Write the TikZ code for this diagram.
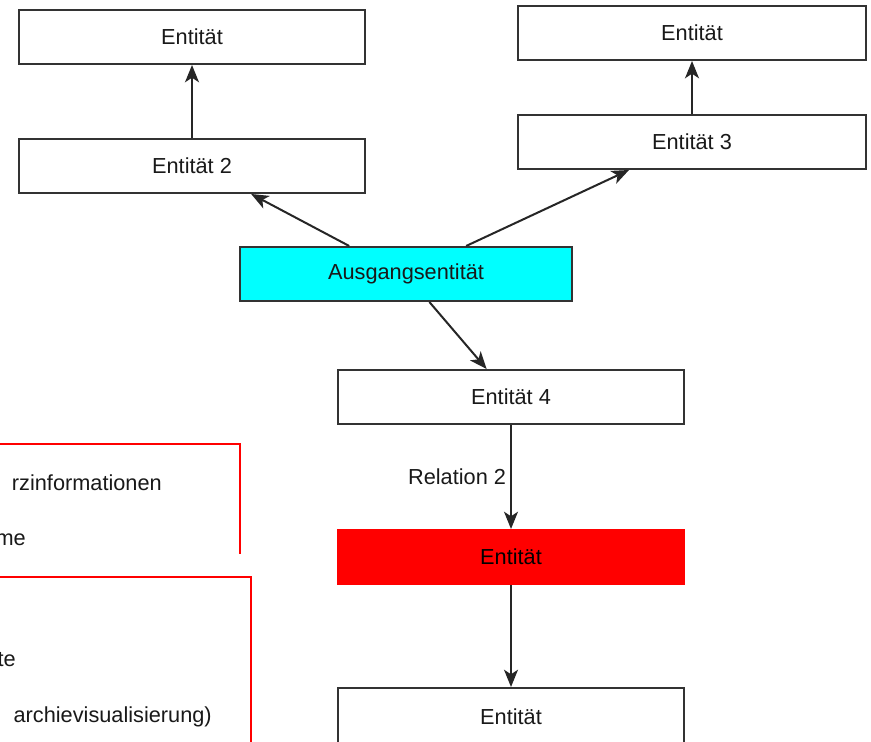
\documentclass[tikz,border=0pt]{standalone}
\usepackage{fontspec}
\setmainfont{Liberation Sans}
\usetikzlibrary{positioning, arrows.meta, calc}
\definecolor{aqua}{RGB}{0,255,255}
\definecolor{signalrot}{RGB}{255,0,0}

\begin{document}
\begin{tikzpicture}[
            x=0.75pt, y=-0.75pt,
            >={Stealth[length=13pt, width=10.5pt, inset=3.5pt]},
            font=\fontsize{16.3}{19}\selectfont,
            entity/.style={rectangle, draw=black!80, line width=1.5pt, fill=white, text=black!90, minimum width=259.5pt, minimum height=40.5pt, inner sep=0pt},
            ausgang/.style={entity, fill=aqua, minimum width=249pt},
            treffer/.style={entity, draw=signalrot, fill=signalrot, text=black},
            pfeil/.style={->, line width=1.5pt, draw=black!85},
            infobox/.style={draw=signalrot, line width=1.5pt},
            infotext/.style={anchor=east, inner sep=0pt, text=black!90},
        ]
            \useasboundingbox (0,0) rectangle (871,742);
            \clip (0,0) rectangle (871,742);

            % Draw the entity boxes
            \node[entity] (E-1) at (192,37) {Entität};
            \node[entity] (E-2) at (192,166) {Entität 2};
            \node[entity, minimum width=261pt] (E-5) at (692,33) {Entität};
            \node[entity, minimum width=261pt] (E-3) at (692,142) {Entität 3};
            \node[ausgang] (A) at (406,274) {Ausgangsentität};
            \node[entity] (E-4) at (511,397) {Entität 4};
            \node[treffer] (R) at (511,557) {Entität};
            \node[entity, minimum height=43.5pt] (E-6) at (511,717) {Entität};

            % Connect the start entity with its neighbours
            \draw[pfeil] (E-2) -- (E-1);
            \draw[pfeil] (E-3) -- (E-5);
            \draw[pfeil] ($(A.north west)!0.33!(A.north east)$) -- ($(E-2.south west)!0.67!(E-2.south east)$);
            \draw[pfeil] ($(A.north west)!0.68!(A.north east)$) -- ($(E-3.south west)!0.32!(E-3.south east)$);
            \draw[pfeil] ($(A.south west)!0.57!(A.south east)$) -- ($(E-4.north west)!0.43!(E-4.north east)$);
            \draw[pfeil] (E-4) -- node[midway, left, inner sep=3pt, text=black!90] {Relation 2} (R);
            \draw[pfeil] (R) -- (E-6);

            % Draw the cut-off info boxes on the left
            \draw[infobox] (-20,444) -- (240,444) -- (240,554);
            \draw[infobox] (-20,577) -- (251,577) -- (251,760);
            \foreach \name/\x/\y/\txt in {1/162/483/rzinformationen, 2/26/540/me, 3/16/660/te, 4/212/717/archievisualisierung)}
                \node[infotext] (T-\name) at (\x,\y) {\txt};
        \end{tikzpicture}
\end{document}
